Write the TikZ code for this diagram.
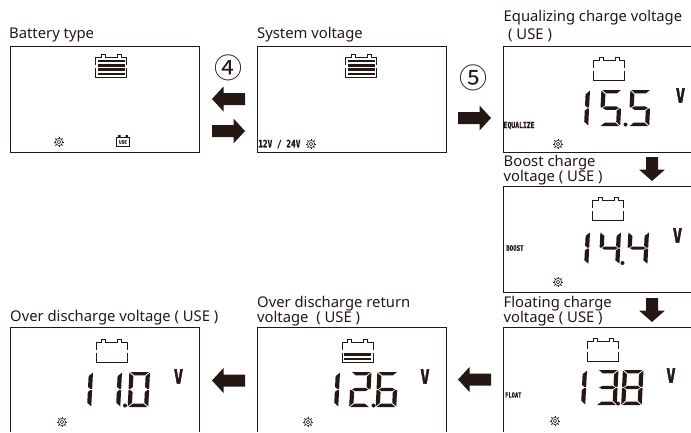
\documentclass[tikz,border=0pt]{standalone}
\usepackage{fontspec}
\setmainfont{Noto Sans}
\newfontfamily\lcdfont[BoldFeatures={FakeBold=1}]{DejaVu Sans Mono}
\newfontfamily\voltfont[BoldFeatures={FakeBold=3}]{DejaVu Sans Mono}
\newfontfamily\circfont{Noto Sans CJK SC}
\usetikzlibrary{positioning}
\definecolor{ink}{rgb}{0.14,0.09,0.08}

% segments of one lcd digit, 21 wide and 35 high
\newcommand{\sega}{(1.4,0)--(20,0)--(16,3.3)--(5.4,3.3)--cycle}
\newcommand{\segb}{(21,0.6)--(21,16.6)--(19.6,17.2)--(16.8,15)--(16.8,4.2)--cycle}
\newcommand{\segc}{(21,18.4)--(21,34.4)--(16.8,30.8)--(16.8,20)--(19.6,17.8)--cycle}
\newcommand{\segd}{(1.4,35)--(20,35)--(16,31.7)--(5.4,31.7)--cycle}
\newcommand{\sege}{(0.4,18.4)--(0.4,34.4)--(4.6,30.8)--(4.6,20)--(1.8,17.8)--cycle}
\newcommand{\segf}{(0.4,0.6)--(0.4,16.6)--(1.8,17.2)--(4.6,15)--(4.6,4.2)--cycle}
\newcommand{\segg}{(2.6,17.5)--(5.6,15.8)--(15.8,15.8)--(18.8,17.5)--(15.8,19.2)--(5.6,19.2)--cycle}

\newcommand{\dzero}{\sega,\segb,\segc,\segd,\sege,\segf}
\newcommand{\dtwo}{\sega,\segb,\segg,\sege,\segd}
\newcommand{\dthree}{\sega,\segb,\segg,\segc,\segd}
\newcommand{\dfour}{\segf,\segg,\segb,\segc}
\newcommand{\dfive}{\sega,\segf,\segg,\segc,\segd}
\newcommand{\dsix}{\sega,\segf,\segg,\segc,\segd,\sege}
\newcommand{\deight}{\sega,\segb,\segc,\segd,\sege,\segf,\segg}

\newcommand{\lcddigit}[4][]{%
  \begin{scope}[shift={(#2,#3)},xslant=0.05,#1]
    \foreach \s in #4 {\fill[ink] \s;}
  \end{scope}}
\newcommand{\lcdone}[3][]{%
  \begin{scope}[shift={(#2,#3)},xslant=0.05,#1]
    \fill[ink] \segb;
    \fill[ink] \segc;
  \end{scope}}

% battery outline
\newcommand{\battery}[2]{%
  \begin{scope}[shift={(#1,#2)}]
    \draw[batline] (0,11)--(0,3.5)--(5.5,3.5)--(5.5,0.8)--(9.5,0.8)--(9.5,3.5)--(21.5,3.5)
      --(21.5,0.8)--(25.5,0.8)--(25.5,3.5)--(31,3.5)--(31,11);
    \draw[batline] (0,14)--(0,23)--(31,23)--(31,14);
  \end{scope}}
% lit bars of a battery, counted from below
\newcommand{\batbars}[3]{%
  \begin{scope}[shift={(#1,#2)}]
    \foreach \b in {1,...,#3} {\fill[ink] (2,{22.8-\b*4.3}) rectangle (29,{25.4-\b*4.3});}
  \end{scope}}

\begin{document}
\begin{tikzpicture}[%
  x=1pt, y=-1pt,
  frame/.style={ink, line width=0.9pt},
  batline/.style={ink, line width=0.9pt},
  title/.style={anchor=base west, inner sep=0pt, text=ink, font=\fontsize{14.8}{16}\selectfont},
  lcdtext/.style={inner sep=0pt, text=ink, yscale=1.3, transform shape, font=\lcdfont\bfseries\fontsize{#1}{#1}\selectfont},
  volt/.style={inner sep=0pt, text=ink, yscale=1.3, transform shape, font=\voltfont\bfseries\fontsize{15}{15}\selectfont},
  circled/.style={inner sep=0pt, text=ink, font=\circfont\fontsize{28}{28}\selectfont},
  block/.pic={
    \fill[ink] (-16.5,-6)--(5,-6)--(5,-12.5)--(16.5,0)--(5,12.5)--(5,6)--(-16.5,6)--cycle;
  },
  shortblock/.pic={
    \fill[ink] (-12,-6)--(0.5,-6)--(0.5,-13)--(12,0)--(0.5,13)--(0.5,6)--(-12,6)--cycle;
  },
  gear/.pic={
    \draw[ink, line width=0.6pt] (0,0) circle (1.8);
    \draw[ink, line width=0.6pt] (0,0) circle (3.6);
    \foreach \a in {0,45,...,315} {\draw[ink, line width=1pt] (\a:3.6)--(\a:5);}
  },
]

  \useasboundingbox (0,0) rectangle (691,432);

  % frames
  \draw[frame] (10,46) rectangle (199,152);
  \draw[frame] (257,46) rectangle (446,152);
  \draw[frame] (691,46)--(503.5,46)--(503.5,152)--(691,152);
  \draw[frame] (691,186)--(503.5,186)--(503.5,292)--(691,292);
  \draw[frame] (691,327)--(503.5,327)--(503.5,432);
  \draw[frame] (257,432)--(257,327)--(446,327)--(446,432);
  \draw[frame] (10,432)--(10,327)--(199,327)--(199,432);

  % titles
  \node[title] (battype) at (9,38) {Battery type};
  \node[title] (sysvolt) at (257,38) {System voltage};
  \node[title] (equal) at (503.5,21) {Equalizing charge voltage};
  \node[title] (equaluse) at (508,39.5) {( USE )};
  \node[title] (boost) at (503.5,166) {Boost charge};
  \node[title] (boostuse) at (503.5,181) {voltage ( USE )};
  \node[title] (float) at (503.5,307) {Floating charge};
  \node[title] (floatuse) at (503.5,322) {voltage ( USE )};
  \node[title] (overret) at (257,307) {Over discharge return};
  \node[title] (overretuse) at (257,322) {voltage \ ( USE )};
  \node[title] (over) at (10,321) {Over discharge voltage ( USE )};

  % batteries
  \battery{95.5}{54}
  \batbars{95.5}{54}{4}
  \battery{345.5}{54}
  \batbars{345.5}{54}{4}
  \battery{593.5}{57}
  \battery{592.5}{197}
  \battery{587.5}{338}
  \battery{342}{339}
  \batbars{342}{339}{2}
  \battery{96}{339}

  % gears
  \pic at (59,142) {gear};
  \pic at (311,144) {gear};
  \pic at (558,144) {gear};
  \pic at (558,282) {gear};
  \pic at (555,421) {gear};
  \pic at (308,422) {gear};
  \pic at (62,422) {gear};

  % use mark of the first frame
  \draw[ink, line width=1.2pt, fill=white] (116.5,137.5) rectangle (129.5,146.5);
  \fill[ink] (118,135) rectangle (120.5,137.5) (125.5,135) rectangle (128,137.5);
  \node[inner sep=0pt, text=ink, font=\lcdfont\bfseries\fontsize{4.4}{4.4}\selectfont] (usemark) at (123,142) {USE};

  % lcd texts
  \node[lcdtext=7.8, anchor=west] (range) at (258,144) {12V / 24V};
  \node[lcdtext=6.4, anchor=west] (eqmode) at (503.5,125.5) {EQUALIZE};
  \node[lcdtext=5.8, anchor=west] (bstmode) at (506,248) {BOOST};
  \node[lcdtext=5.4, anchor=west] (fltmode) at (505,395) {FLOAT};
  \node[volt] (v1) at (680.5,95.5) {V};
  \node[volt] (v2) at (677.5,235.5) {V};
  \node[volt] (v3) at (671,375.5) {V};
  \node[volt] (v4) at (425,376.5) {V};
  \node[volt] (v5) at (178.5,376.5) {V};

  % 15.5
  \lcdone[yscale=1.03]{569}{90}
  \lcddigit[yscale=1.03]{601}{90}{\dfive}
  \lcddigit[yscale=1.03]{630}{90}{\dfive}
  \fill[ink] (625.5,124.5) circle (2);

  % 14.4
  \lcdone[yscale=0.92]{569}{232}
  \lcddigit[yscale=0.92]{600}{232}{\dfour}
  \lcddigit[yscale=0.92]{628}{232}{\dfour}
  \fill[ink] (622.5,263) circle (2);

  % 13.8
  \lcdone{566}{370}
  \lcddigit{597.5}{370}{\dthree}
  \lcddigit{622.5}{370}{\deight}
  \fill[ink] (618,403.5) circle (2);

  % 12.6
  \lcdone{319}{372}
  \lcddigit{350.5}{372}{\dtwo}
  \lcddigit{377}{372}{\dsix}
  \fill[ink] (373.5,405.5) circle (2);

  % 11.0
  \lcdone{72}{372}
  \lcdone{101}{372}
  \lcddigit{129}{372}{\dzero}
  \fill[ink] (125,405.5) circle (2);

  % steps
  \node[circled] (stepfour) at (228,68) {④};
  \node[circled] (stepfive) at (473,78) {⑤};

  % block arrows
  \pic[rotate=180] (back) at (228.5,99) {block};
  \pic (next) at (228.5,131) {block};
  \pic (tolow) at (474.5,118) {block};
  \pic[rotate=-90] (downa) at (652,169) {shortblock};
  \pic[rotate=-90] (downb) at (652,310) {shortblock};
  \pic[rotate=180] (lefta) at (474.5,379.5) {block};
  \pic[rotate=180] (leftb) at (228.5,380.5) {block};

\end{tikzpicture}
\end{document}
